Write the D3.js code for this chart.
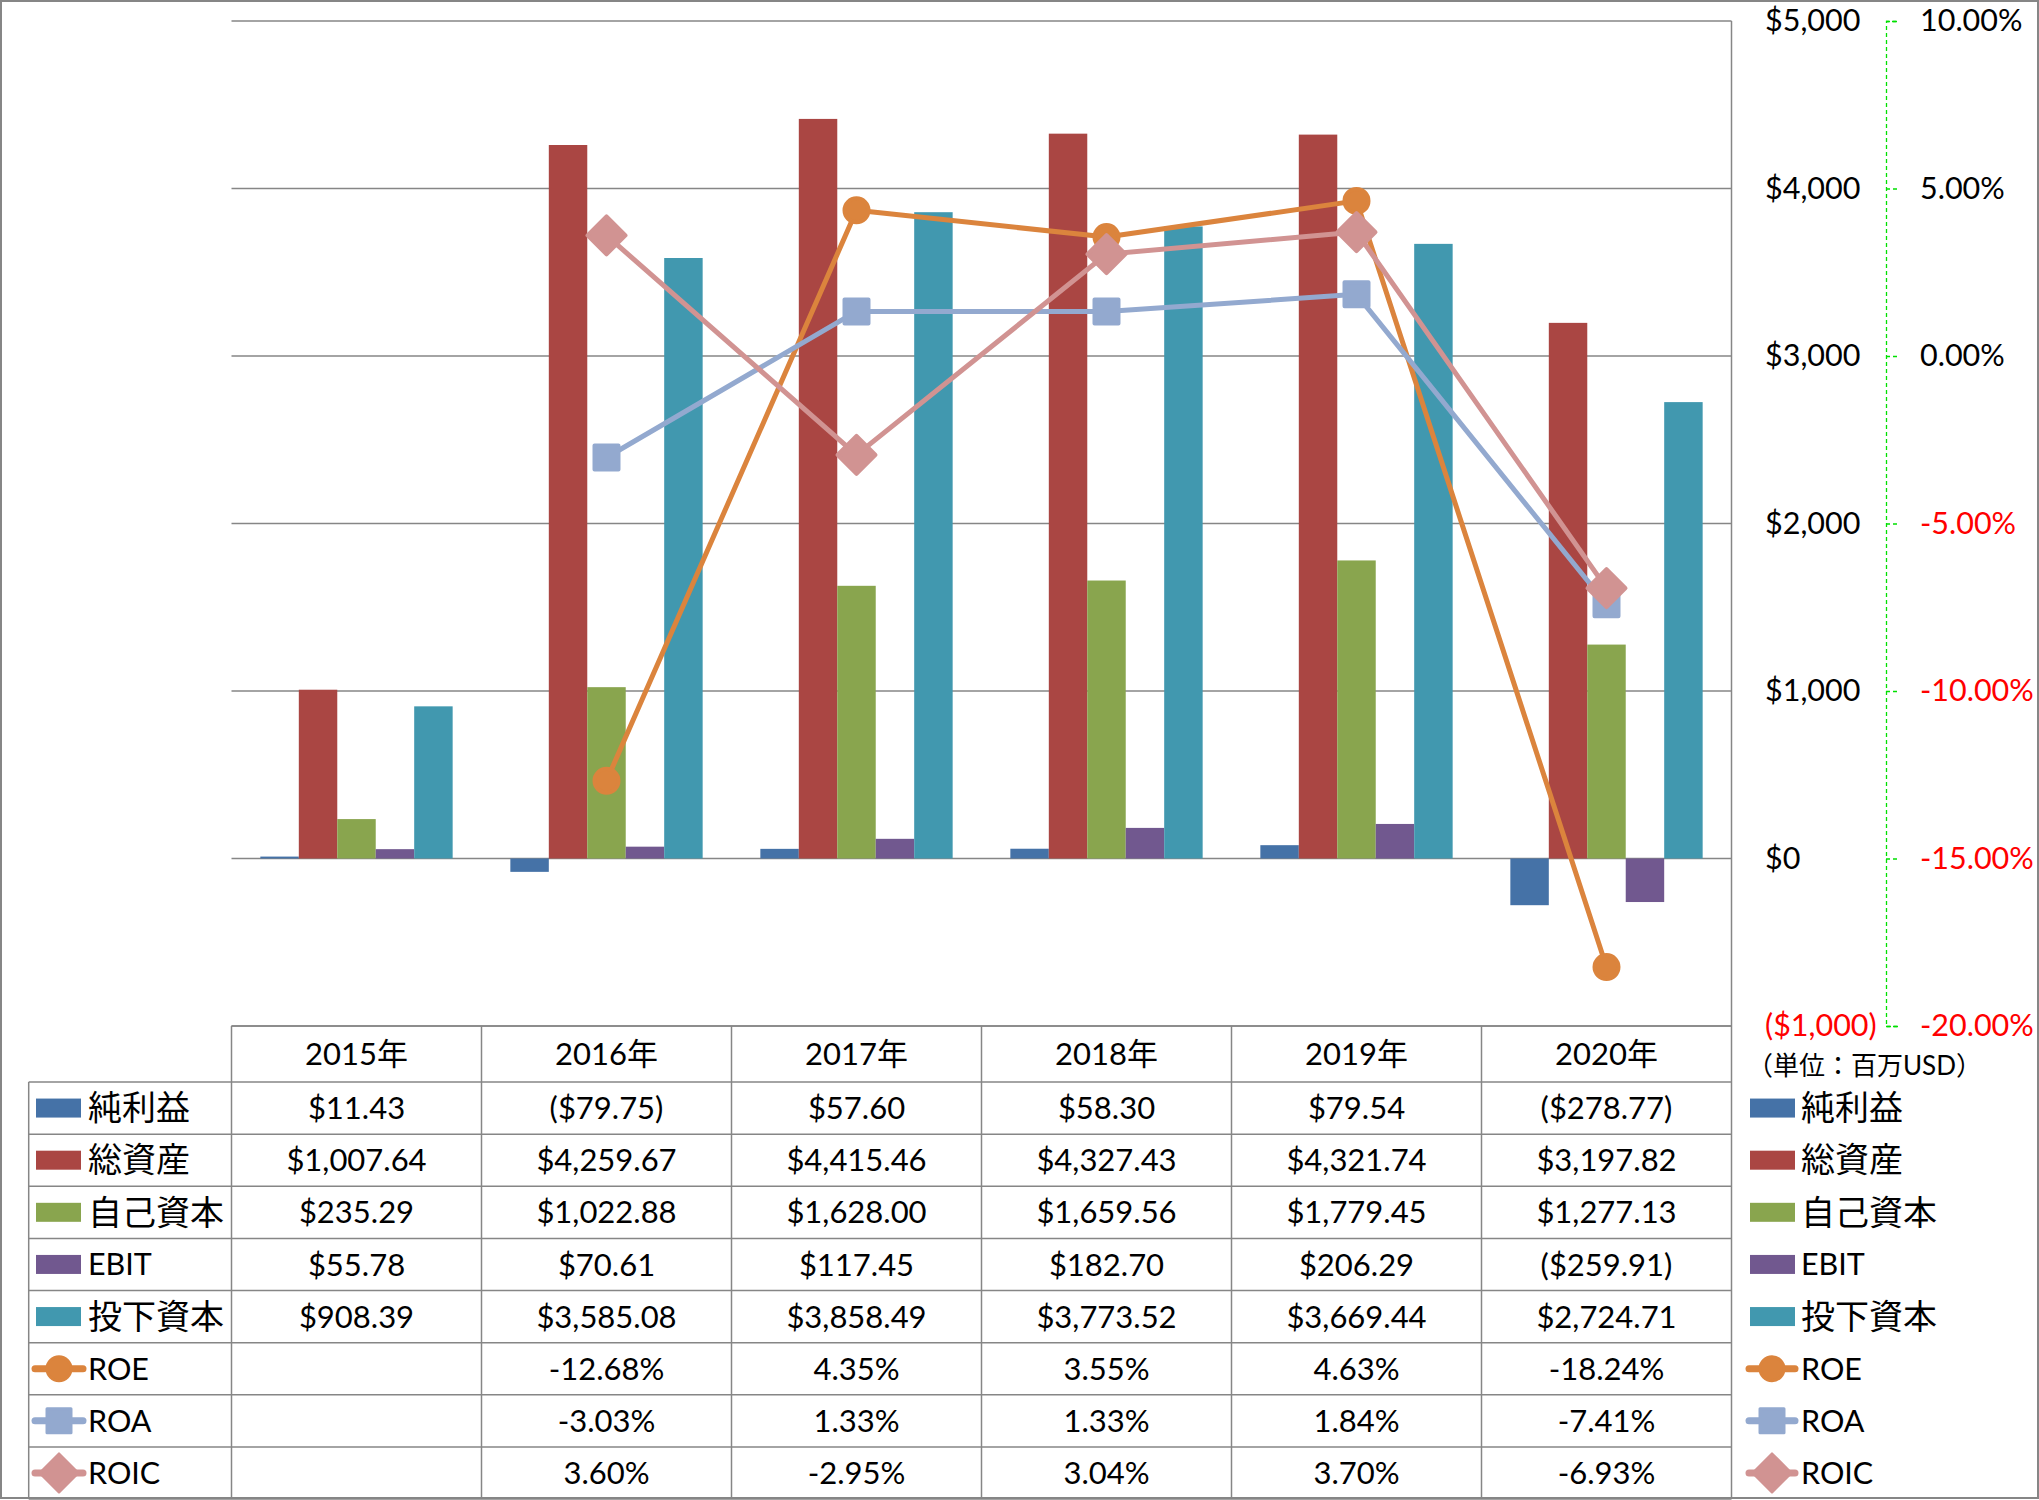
<!DOCTYPE html>
<html><head><meta charset="utf-8">
<script src="https://cdn.jsdelivr.net/npm/d3@7"></script>
<style>body{margin:0;background:#fff}svg{display:block}text{font-family:Lato,'Noto Sans CJK JP',sans-serif}</style>
</head><body><svg id="c" width="2039" height="1500"></svg>
<script>
// ---------- data ----------
const years = ["2015年","2016年","2017年","2018年","2019年","2020年"];
const barSeries = ["純利益","総資産","自己資本","EBIT","投下資本"];
const netIncome       = [11.43, -79.75, 57.60, 58.30, 79.54, -278.77];
const totalAssets     = [1007.64, 4259.67, 4415.46, 4327.43, 4321.74, 3197.82];
const equity          = [235.29, 1022.88, 1628.00, 1659.56, 1779.45, 1277.13];
const ebit            = [55.78, 70.61, 117.45, 182.70, 206.29, -259.91];
const investedCapital = [908.39, 3585.08, 3858.49, 3773.52, 3669.44, 2724.71];
const lineSeries = ["ROE","ROA","ROIC"];
const roe  = [null, -12.68, 4.35, 3.55, 4.63, -18.24];
const roa  = [null, -3.03, 1.33, 1.33, 1.84, -7.41];
const roic = [null, 3.60, -2.95, 3.04, 3.70, -6.93];
const leftTicks  = [-1000, 0, 1000, 2000, 3000, 4000, 5000];
const rightTicks = [-20, -15, -10, -5, 0, 5, 10];
const unitLabel = "（単位：百万USD）";

const barValues = [netIncome, totalAssets, equity, ebit, investedCapital];
const lineValues = [roe, roa, roic];
const barColors  = ["#4572A7","#AA4643","#89A54E","#71588F","#4198AF"];
const lineColors = ["#DB843D","#93A9CF","#D19392"];
const markerTypes = ["circle","square","diamond"];

// ---------- layout ----------
const plotL = 231.5, plotR = 1731.5, plotT = 21, plotB = 1026;
const headerB = 1082, rowH = 52.125, tableL = 28.7, bottom = 1499;
const gridColor = "#868686";
const svg = d3.select("#c");
const loc = d3.formatLocale({decimal:".", thousands:",", grouping:[3], currency:["$",""], minus:"-"});
const fmtMoney = loc.format(",.2f"), fmtInt = loc.format(","), fmtPct = loc.format(".2f");

const x = d3.scaleBand().domain(years).range([plotL, plotR]).padding(0);
const xs = d3.scaleBand().domain(barSeries).range([0, x.bandwidth()]).paddingInner(0).paddingOuter(0.75);
const y = d3.scaleLinear().domain([-1000, 5000]).range([plotB, plotT]);
const y2 = d3.scaleLinear().domain([-20, 10]).range([plotB, plotT]);

// outer border
svg.append("rect").attr("x",1).attr("y",1).attr("width",2037).attr("height",1497)
  .attr("fill","#fff").attr("stroke",gridColor).attr("stroke-width",2);

// gridlines
svg.append("g").selectAll("line").data(leftTicks).join("line")
  .attr("x1",plotL).attr("x2",plotR).attr("y1",d=>y(d)).attr("y2",d=>y(d))
  .attr("stroke",gridColor).attr("stroke-width",1.5);

// bars
barSeries.forEach((s,si)=>{
  svg.append("g").selectAll("rect").data(barValues[si]).join("rect")
    .attr("x",(d,i)=>x(years[i])+xs(s))
    .attr("width",xs.bandwidth())
    .attr("y",d=>y(Math.max(0,d)))
    .attr("height",d=>Math.abs(y(d)-y(0)))
    .attr("fill",barColors[si]);
});

// marker path generator
function markerPath(type){
  if(type==="circle") return d3.symbol(d3.symbolCircle, Math.PI*12*12)();
  if(type==="square") return "M-12,-12H12V12H-12Z";
  return "M0,-19L19,0L0,19L-19,0Z";
}

// lines
lineSeries.forEach((s,li)=>{
  const pts = lineValues[li].map((v,i)=>({v,i})).filter(p=>p.v!==null);
  const line = d3.line().x(p=>x(years[p.i])+x.bandwidth()/2).y(p=>y2(p.v));
  svg.append("path").attr("d",line(pts)).attr("fill","none")
    .attr("stroke",lineColors[li]).attr("stroke-width",5).attr("stroke-linejoin","round");
  svg.append("g").selectAll("path").data(pts).join("path")
    .attr("transform",p=>`translate(${x(years[p.i])+x.bandwidth()/2},${y2(p.v)})`)
    .attr("d",markerPath(markerTypes[li]))
    .attr("fill",lineColors[li]).attr("stroke",lineColors[li])
    .attr("stroke-width",4).attr("stroke-linejoin","round");
});

// left-value axis (labels to the right of plot)
const moneyTick = d => d<0 ? "($"+fmtInt(-d)+")" : "$"+fmtInt(d);
const axL = svg.append("g").attr("transform",`translate(${plotR},0)`)
  .call(d3.axisRight(y).tickValues(leftTicks).tickSize(0).tickPadding(33.5).tickFormat(moneyTick));
axL.select(".domain").remove();
axL.selectAll("text").attr("font-size",30.5).attr("font-family","Lato,'Noto Sans CJK JP',sans-serif")
  .attr("fill",d=>d<0?"#FF0000":"#000");

// right percentage axis
const axR = svg.append("g").attr("transform",`translate(1886,0)`)
  .call(d3.axisRight(y2).tickValues(rightTicks).tickSize(12).tickPadding(22).tickFormat(d=>fmtPct(d)+"%"));
axR.select(".domain").attr("stroke","#00E000").attr("stroke-width",1.3).attr("stroke-dasharray","4,3");
axR.selectAll(".tick line").attr("stroke","#00E000").attr("stroke-width",1.3).attr("stroke-dasharray","4,3");
axR.selectAll("text").attr("font-size",30.5).attr("font-family","Lato,'Noto Sans CJK JP',sans-serif")
  .attr("fill",d=>d<0?"#FF0000":"#000");

// unit label
svg.append("text").attr("x",1747).attr("y",1066).attr("dy","0.36em")
  .attr("font-size",26).attr("fill","#000").text(unitLabel);

// ---------- data table ----------
const allRows = barSeries.concat(lineSeries);
const rowY = i => headerB + i*rowH;           // top of data row i
const tg = svg.append("g").attr("stroke",gridColor).attr("stroke-width",1.5);
tg.append("line").attr("x1",plotL).attr("x2",plotR).attr("y1",plotB).attr("y2",plotB);
for(let i=0;i<=allRows.length;i++){
  tg.append("line").attr("x1",tableL).attr("x2",plotR).attr("y1",rowY(i)).attr("y2",rowY(i));
}
tg.append("line").attr("x1",tableL).attr("x2",tableL).attr("y1",headerB).attr("y2",bottom);
years.forEach(yr=>{
  tg.append("line").attr("x1",x(yr)).attr("x2",x(yr)).attr("y1",plotB).attr("y2",bottom);
});
tg.append("line").attr("x1",plotR).attr("x2",plotR).attr("y1",plotT).attr("y2",bottom);

// header text
svg.append("g").selectAll("text").data(years).join("text")
  .attr("x",d=>x(d)+x.bandwidth()/2).attr("y",(plotB+headerB)/2).attr("dy","0.36em")
  .attr("text-anchor","middle").attr("font-size",31).attr("fill","#000").text(d=>d);

// cell text
const moneyCell = v => v<0 ? "($"+fmtMoney(-v)+")" : "$"+fmtMoney(v);
const pctCell = v => v===null ? "" : fmtPct(v)+"%";
const rowsData = barValues.map(a=>a.map(moneyCell)).concat(lineValues.map(a=>a.map(pctCell)));
rowsData.forEach((row,ri)=>{
  svg.append("g").selectAll("text").data(row).join("text")
    .attr("x",(d,i)=>x(years[i])+x.bandwidth()/2).attr("y",rowY(ri)+rowH/2).attr("dy","0.36em")
    .attr("text-anchor","middle").attr("font-size",31).attr("fill","#000").text(d=>d);
});

// legend keys (table left column and right side)
function legendKey(g, i, x0, lineX0, lineX1, textX){
  const cy = rowY(i)+rowH/2;
  const name = allRows[i];
  const isCJK = /[^\x00-\x7F]/.test(name);
  if(i<barSeries.length){
    g.append("rect").attr("x",x0).attr("y",cy-9.5).attr("width",45).attr("height",19).attr("fill",barColors[i]);
  } else {
    const li = i-barSeries.length;
    g.append("line").attr("x1",lineX0).attr("x2",lineX1).attr("y1",cy).attr("y2",cy)
      .attr("stroke",lineColors[li]).attr("stroke-width",7).attr("stroke-linecap","round");
    g.append("path").attr("transform",`translate(${(lineX0+lineX1)/2},${cy})`)
      .attr("d",markerPath(markerTypes[li])).attr("fill",lineColors[li]).attr("stroke",lineColors[li])
      .attr("stroke-width",3).attr("stroke-linejoin","round");
  }
  g.append("text").attr("x",textX).attr("y",cy).attr("dy","0.36em")
    .attr("font-size",isCJK?34:30.5).attr("fill","#000").text(name);
}
const lg = svg.append("g");
allRows.forEach((n,i)=>{
  legendKey(lg, i, 36, 35, 83, 88);
  legendKey(lg, i, 1750, 1749, 1795, 1801);
});
</script></body></html>
